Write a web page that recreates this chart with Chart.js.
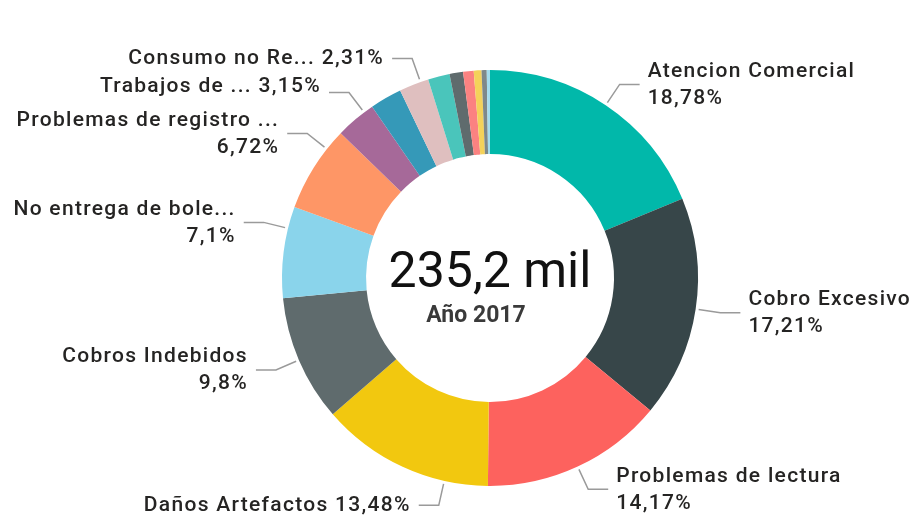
<!DOCTYPE html>
<html lang="es">
<head>
<meta charset="utf-8">
<title>Reclamos 2017</title>
<script src="https://cdn.jsdelivr.net/npm/chart.js@4.4.1/dist/chart.umd.min.js"></script>
<style>
  html, body { margin: 0; padding: 0; background: #fff; }
  #wrap { width: 919px; height: 520px; }
</style>
</head>
<body>
<div id="wrap"><canvas id="donut" width="919" height="520"></canvas></div>
<script>
// categories as Power BI shows them (long names get cut with "...")
const categories = [
    'Atencion Comercial',
    'Cobro Excesivo',
    'Problemas de lectura',
    'Daños Artefactos',
    'Cobros Indebidos',
    'No entrega de bole...',
    'Problemas de registro ...',
    'Trabajos de ...',
    'Otros 1',
    'Consumo no Re...',
    'Otros 2',
    'Otros 3',
    'Otros 4',
    'Otros 5',
    'Otros 6',
    'Otros 7'
];

// share of the total, in %
const shares = [18.78, 17.21, 14.17, 13.48, 9.8, 7.1, 6.72, 3.15, 2.48, 2.31, 1.68, 1.05, 0.82, 0.6, 0.4, 0.25];

const sliceColors = [
    '#01B8AA', '#374649', '#FD625E', '#F2C80F', '#5F6B6D', '#8AD4EB', '#FE9666', '#A66999',
    '#3599B8', '#DFBFBF', '#4AC5BB', '#5F6B6D', '#FB8281', '#F4D25A', '#7F898A', '#A4DDEE'
];

const totalLabel = '235,2 mil';
const yearLabel = 'Año 2017';

// which slices get a label and where along the slice the leader starts
const labelSpots = [
    { i: 0, t: 0.5, twoLines: true },
    { i: 1, t: 0.5, twoLines: true },
    { i: 2, t: 0.5, twoLines: true },
    { i: 3, t: 0.25, twoLines: false },
    { i: 4, t: 0.5, twoLines: true },
    { i: 5, t: 0.76, twoLines: true },
    { i: 6, t: 0.76, twoLines: true },
    { i: 7, t: 0.76, twoLines: false, dy: -6 },
    { i: 9, t: 0.73, twoLines: false }
];

function fmtPct(v) {
    return String(v).replace('.', ',') + '%';
}

const donutLabels = {
    id: 'donutLabels',
    afterDatasetsDraw(chart) {
        const ctx = chart.ctx;
        const arcs = chart.getDatasetMeta(0).data;
        ctx.save();

        labelSpots.forEach(spot => {
            const p = arcs[spot.i].getProps(['x', 'y', 'startAngle', 'endAngle', 'outerRadius'], true);
            const a = p.startAngle + spot.t * (p.endAngle - p.startAngle);
            const x0 = p.x + (p.outerRadius + 3) * Math.cos(a);
            const y0 = p.y + (p.outerRadius + 3) * Math.sin(a);
            const x1 = p.x + (p.outerRadius + 25) * Math.cos(a);
            const y1 = p.y + (p.outerRadius + 25) * Math.sin(a);
            const dir = x1 >= p.x ? 1 : -1;
            const x2 = x1 + dir * 20;

            // leader line
            ctx.strokeStyle = '#9a9a9a';
            ctx.lineWidth = 1.5;
            ctx.beginPath();
            ctx.moveTo(x0, y0);
            ctx.lineTo(x1, y1);
            ctx.lineTo(x2, y1);
            ctx.stroke();

            // text
            ctx.font = '500 21px Roboto, "DejaVu Sans", sans-serif';
            ctx.letterSpacing = '1.3px';
            ctx.fillStyle = '#252423';
            ctx.textBaseline = 'middle';
            ctx.textAlign = dir > 0 ? 'left' : 'right';
            const tx = x2 + dir * 8;
            const pct = fmtPct(shares[spot.i]);
            if (spot.twoLines) {
                ctx.fillText(categories[spot.i], tx, y1 - 13);
                ctx.fillText(pct, tx, y1 + 14);
            } else {
                ctx.fillText(categories[spot.i] + ' ' + pct, tx, y1 + (spot.dy || 0));
            }
        });

        // centre card
        const c = arcs[0].getProps(['x', 'y'], true);
        ctx.letterSpacing = '0px';
        ctx.textBaseline = 'alphabetic';
        ctx.textAlign = 'center';
        ctx.fillStyle = '#111';
        ctx.font = '50px Roboto, "DejaVu Sans", sans-serif';
        ctx.fillText(totalLabel, c.x, c.y + 9);
        ctx.fillStyle = '#3a3a3a';
        ctx.font = 'bold 23px Roboto, "DejaVu Sans", sans-serif';
        ctx.fillText(yearLabel, c.x - 14, c.y + 44);

        ctx.restore();
    }
};

new Chart(document.getElementById('donut'), {
    type: 'doughnut',
    data: {
        labels: categories,
        datasets: [{
            data: shares,
            backgroundColor: sliceColors,
            borderWidth: 0
        }]
    },
    options: {
        responsive: false,
        animation: false,
        cutout: '59.6%',
        layout: { padding: { left: 282, right: 221, top: 70, bottom: 34 } },
        plugins: {
            legend: { display: false },
            tooltip: { enabled: false }
        },
        events: []
    },
    plugins: [donutLabels]
});
</script>
</body>
</html>
